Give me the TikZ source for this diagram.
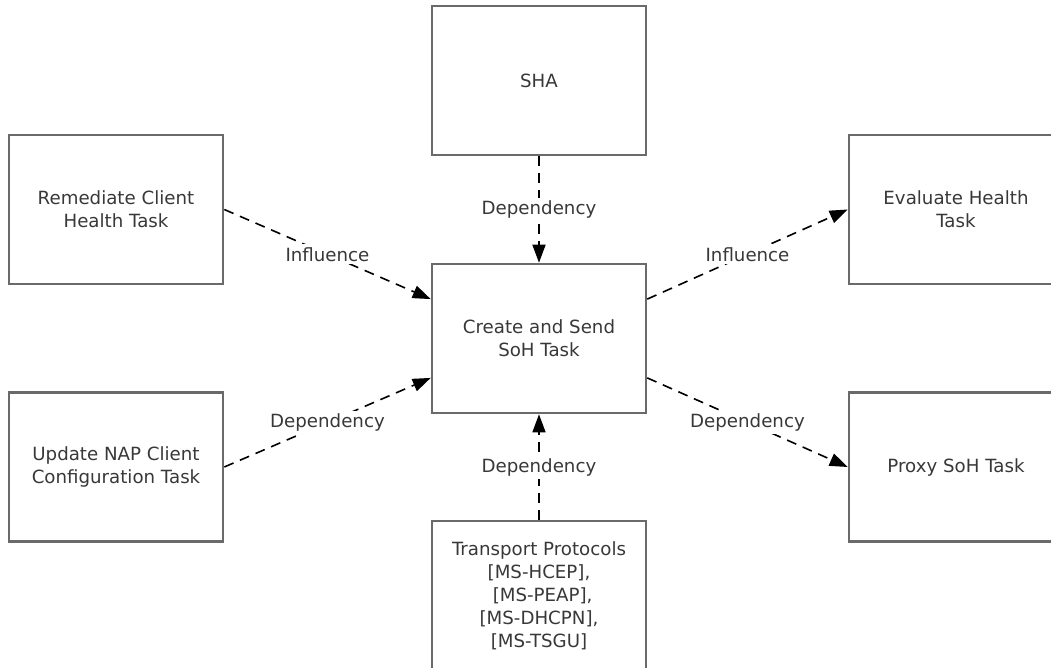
\documentclass[tikz,border=0pt]{standalone}
\usepackage{fontspec}
\setmainfont{DejaVu Sans}
\usetikzlibrary{arrows.meta}
\definecolor{boxline}{HTML}{6A6A6A}
\definecolor{txt}{HTML}{383838}
\begin{document}
\begin{tikzpicture}[x=1pt,y=-1pt,
  font=\fontsize{18.2}{23}\selectfont,
  taskbox/.style={draw=boxline, line width=2.6pt, rectangle, minimum width=214pt,
    minimum height=149pt, align=center, text=txt, inner sep=0pt},
  link/.style={draw=black, line width=1.6pt, dash pattern=on 10pt off 7pt,
    -{Triangle[length=18pt,width=13pt]}},
  tag/.style={fill=white, text=txt, inner sep=3pt, font=\fontsize{18.2}{23}\selectfont}]
  \useasboundingbox (0,0) rectangle (1051,668);

  % task boxes
  \node[taskbox] (sha)       at (539,80.5)  {SHA};
  \node[taskbox] (remediate) at (116,209.5) {Remediate Client\\Health Task};
  \node[taskbox] (evaluate)  at (956,209.5) {Evaluate Health\\Task};
  \node[taskbox] (create)    at (539,338.5) {Create and Send\\SoH Task};
  \node[taskbox] (update)    at (116,467)   {Update NAP Client\\Configuration Task};
  \node[taskbox] (proxy)     at (956,467)   {Proxy SoH Task};
  \node[taskbox] (transport) at (539,595.5) {Transport Protocols\\{}[MS-HCEP],\\\hspace*{0.4em}[MS-PEAP],\\{}[MS-DHCPN],\\{}[MS-TSGU]};

  % relations
  \draw[link] (sha.south) -- node[tag] {Dependency} (create.north);
  \draw[link] (remediate.east) -- node[tag] {Influence} (create.160);
  \draw[link] (update.east) -- node[tag] {Dependency} (create.200);
  \draw[link] (create.20) -- node[tag] {Influence} (evaluate.west);
  \draw[link] (create.340) -- node[tag] {Dependency} (proxy.west);
  \draw[link] (transport.north) -- node[tag] {Dependency} (create.south);
\end{tikzpicture}
\end{document}
